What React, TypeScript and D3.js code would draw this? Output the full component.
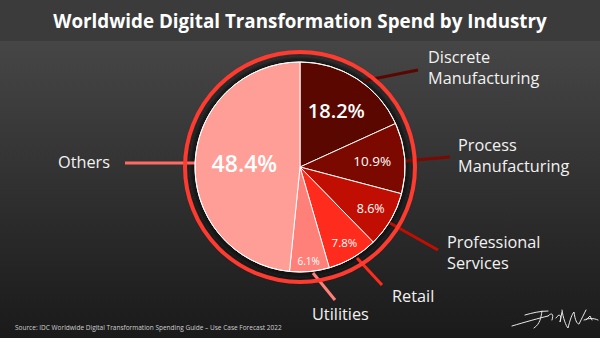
import React from "react";
import * as d3 from "d3";

const categories = ["Discrete Manufacturing", "Process Manufacturing", "Professional Services", "Retail", "Utilities", "Others"];
const values = [18.2, 10.9, 8.6, 7.8, 6.1, 48.4];
const valueLabels = ["18.2%", "10.9%", "8.6%", "7.8%", "6.1%", "48.4%"];
const labelLines = [["Discrete", "Manufacturing"], ["Process", "Manufacturing"], ["Professional", "Services"], ["Retail"], ["Utilities"], ["Others"]];
const colors = ["#5a0700", "#7c0900", "#c10e02", "#ff2b1c", "#ff8078", "#ff9e97"];
const lineColors = ["#5a0700", "#7c0900", "#c10e02", "#ff2b1c", "#ff8078", "#ff6a62"];

const W = 600, H = 338;
const cx = 300, cy = 167, R = 105;

// label radius factor, font size per slice
const labelR = [0.64, 0.69, 0.78, 0.84, 0.9, 0.53];
const labelFs = [20, 13.5, 12.5, 11.5, 10, 23];

// leader lines and category label anchors (pixels relative to pie centre)
const leaderStart = [[63, -86], [105, -6], [90, 56], [57, 91], [13, 106], [-105, -4]];
const leaderEnd = [[118, -97], [150, -10], [138, 83], [82, 118], [35, 133], [-175, -4]];
const textPos = [[128, -104], [158, -16], [147, 81], [92, 135], [12, 153], [-242, 1]];

export default function App() {
  const pie = d3.pie<number>().sort(null).value((d) => d)(values);
  const arc = d3.arc<d3.PieArcDatum<number>>().innerRadius(0).outerRadius(R);
  return (
    <svg width={W} height={H} style={{ position: "absolute", left: 0, top: 0 }} fontFamily="'Open Sans', 'Noto Sans', sans-serif">
      <defs>
        <linearGradient id="bg" x1="0" y1="0" x2="0" y2="1">
          <stop offset="0" stopColor="#4c4c4c" />
          <stop offset="1" stopColor="#1a1a1a" />
        </linearGradient>
        <filter id="blur" x="-30%" y="-30%" width="160%" height="160%">
          <feGaussianBlur stdDeviation="3" />
        </filter>
      </defs>
      <rect x={0} y={0} width={W} height={H} fill="url(#bg)" />
      <rect x={0} y={0} width={W} height={41} fill="#3b3b3b" />
      <text x={W / 2} y={28} textAnchor="middle" fill="#fff" fontSize={18.8} fontWeight={700}>
        Worldwide Digital Transformation Spend by Industry
      </text>
      {/* shadow */}
      <circle cx={cx} cy={cy} r={R + 6} fill="#111" opacity={0.85} filter="url(#blur)" />
      {/* leader lines */}
      {values.map((_, i) => (
        <line key={"l" + i} x1={cx + leaderStart[i][0]} y1={cy + leaderStart[i][1]} x2={cx + leaderEnd[i][0]} y2={cy + leaderEnd[i][1]} stroke={lineColors[i]} strokeWidth={3} />
      ))}
      <g transform={`translate(${cx},${cy})`}>
        {pie.map((d, i) => (
          <path key={i} d={arc(d) || ""} fill={colors[i]} stroke="#fff" strokeWidth={1} />
        ))}
        <circle r={R} fill="none" stroke="#fff" strokeWidth={1} />
        <circle r={R + 10} fill="none" stroke="#ff3b30" strokeWidth={4} />
        {pie.map((d, i) => {
          const a = (d.startAngle + d.endAngle) / 2;
          const r = R * labelR[i];
          return (
            <text key={"t" + i} x={Math.sin(a) * r} y={-Math.cos(a) * r} dy="0.35em" textAnchor="middle" fill="#fff" fontSize={labelFs[i]} fontWeight={i === 0 || i === 5 ? 600 : 400}>
              {valueLabels[i]}
            </text>
          );
        })}
      </g>
      {labelLines.map((lines, i) => (
        <text key={"c" + i} x={cx + textPos[i][0]} y={cy + textPos[i][1]} fill="#f2f2f2" fontSize={16.3}>
          {lines.map((ln, j) => (
            <tspan key={j} x={cx + textPos[i][0]} dy={j === 0 ? 0 : 21}>{ln}</tspan>
          ))}
        </text>
      ))}
      <text x={15} y={330} fill="#cfcfcf" fontSize={6.5}>
        Source: IDC Worldwide Digital Transformation Spending Guide – Use Case Forecast 2022
      </text>
      {/* signature */}
      <g fill="none" stroke="#e8e8e8" strokeWidth={1} strokeLinecap="round">
        <path d="M512 326 C 525 322, 540 318, 548 316 M525 315 C 532 313, 540 311, 548 311 M542 311 C 541 318, 540 324, 534 328 M548 316 C 552 312, 554 314, 552 320 M556 318 C 560 312, 562 316, 560 322 L 562 312" />
        <path d="M562 310 C 563 318, 566 326, 568 328 C 570 320, 572 314, 574 312 C 575 320, 577 324, 579 324 C 582 318, 584 314, 586 310" />
        <path d="M584 320 C 588 318, 594 318, 598 320 M586 320 L 590 316 L 592 320" />
      </g>
    </svg>
  );
}
